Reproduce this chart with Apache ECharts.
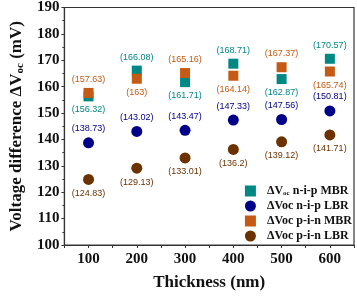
<!DOCTYPE html>
<html><head><meta charset="utf-8">
<script src="https://cdn.jsdelivr.net/npm/echarts@6/dist/echarts.min.js"></script>
<style>html,body{margin:0;padding:0;background:#fff}#c{width:357px;height:296px}</style>
</head><body><div id="c"></div>
<script>
const thickness = [100, 200, 300, 400, 500, 600];
const nipMBR = [156.32, 166.08, 161.71, 168.71, 162.87, 170.57];
const nipLBR = [138.73, 143.02, 143.47, 147.33, 147.56, 150.81];
const pinMBR = [157.63, 163, 165.16, 164.14, 167.37, 165.74];
const pinLBR = [124.83, 129.13, 133.01, 136.2, 139.12, 141.71];
const nipMBRpos = ['bottom','top','bottom','top','bottom','top'];
const pinMBRpos = ['top','bottom','top','bottom','top','bottom'];
const yTicks = [100, 110, 120, 130, 140, 150, 160, 170, 180, 190];

const serif = 'Liberation Serif';
const colors = {tealc:'#008884', navy:'#000088', orange:'#c45a14', brown:'#6b3200'};

function mk(vals, pos) {
  return vals.map((v, i) => ({value: [thickness[i], v], label: {position: Array.isArray(pos) ? pos[i] : pos}}));
}
function lbl(color) {
  return {show: true, fontFamily: 'Liberation Sans', fontSize: 9, color: color, distance: 4,
    formatter: p => '(' + p.value[1] + ')'};
}
const chart = echarts.init(document.getElementById('c'), null, {renderer: 'canvas'});
chart.setOption({
  animation: false,
  grid: {left: 52, right: 2, top: 5, bottom: 45, show: true, borderColor: '#333', borderWidth: 1.2},
  xAxis: {
    type: 'value', min: 50, max: 650, interval: 50,
    name: 'Thickness (nm)', nameLocation: 'middle', nameGap: 29,
    nameTextStyle: {fontFamily: serif, fontWeight: 'bold', fontSize: 17, color: '#111'},
    axisLine: {show: true, lineStyle: {color: '#333', width: 1.2}},
    axisTick: {show: true, length: 3, lineStyle: {color: '#333'}},
    splitLine: {show: false},
    axisLabel: {fontFamily: serif, fontWeight: 'bold', fontSize: 15, color: '#111', margin: 7,
      formatter: v => (v % 100 === 0 && v >= 100 && v <= 600) ? String(v) : ''}
  },
  yAxis: {
    type: 'value', min: yTicks[0], max: yTicks[yTicks.length - 1], interval: 10,
    name: '{a|Voltage difference ΔV}{s|oc}{a| (mV)}', nameLocation: 'middle', nameGap: 38,
    nameTextStyle: {rich: {
      a: {fontFamily: serif, fontWeight: 'bold', fontSize: 17, color: '#111'},
      s: {fontFamily: serif, fontWeight: 'bold', fontSize: 11, color: '#111', verticalAlign: 'bottom', padding: [8, 0, 0, 0]}
    }},
    axisLine: {show: true, lineStyle: {color: '#333', width: 1.2}},
    axisTick: {show: true, length: 3, lineStyle: {color: '#333'}},
    minorTick: {show: true, splitNumber: 2, length: 2, lineStyle: {color: '#333'}},
    splitLine: {show: false},
    axisLabel: {fontFamily: serif, fontWeight: 'bold', fontSize: 15, color: '#111', margin: 5}
  },
  legend: {
    orient: 'vertical', right: 0, top: 180, itemGap: 3, itemWidth: 11, itemHeight: 11,
    textStyle: {fontFamily: serif, fontWeight: 'bold', fontSize: 12, color: '#111', padding: [0, 0, 0, 6],
      rich: {a: {fontFamily: serif, fontWeight: 'bold', fontSize: 12, color: '#111'},
             s: {fontFamily: serif, fontWeight: 'bold', fontSize: 7, color: '#111', verticalAlign: 'bottom', padding: [5, 0, 0, 0]}}},
    formatter: n => n === 'nipMBR' ? '{a|ΔV}{s|oc}{a| n-i-p MBR}' :
      n === 'nipLBR' ? 'ΔVoc n-i-p LBR' : n === 'pinMBR' ? 'ΔVoc p-i-n MBR' : 'ΔVoc p-i-n LBR',
    data: [{name: 'nipMBR', icon: 'rect'}, {name: 'nipLBR', icon: 'circle'},
           {name: 'pinMBR', icon: 'rect'}, {name: 'pinLBR', icon: 'circle'}]
  },
  series: [
    {name: 'nipMBR', type: 'scatter', symbol: 'rect', symbolSize: 10, itemStyle: {color: colors.tealc, opacity: 1},
      data: mk(nipMBR, nipMBRpos), label: lbl(colors.tealc)},
    {name: 'nipLBR', type: 'scatter', symbol: 'circle', symbolSize: 11, itemStyle: {color: colors.navy, opacity: 1},
      data: mk(nipLBR, 'top'), label: lbl(colors.navy)},
    {name: 'pinMBR', type: 'scatter', symbol: 'rect', symbolSize: 10, itemStyle: {color: colors.orange, opacity: 1},
      data: mk(pinMBR, pinMBRpos), label: lbl(colors.orange)},
    {name: 'pinLBR', type: 'scatter', symbol: 'circle', symbolSize: 11, itemStyle: {color: colors.brown, opacity: 1},
      data: mk(pinLBR, 'bottom'), label: lbl(colors.brown)}
  ]
});
</script></body></html>
